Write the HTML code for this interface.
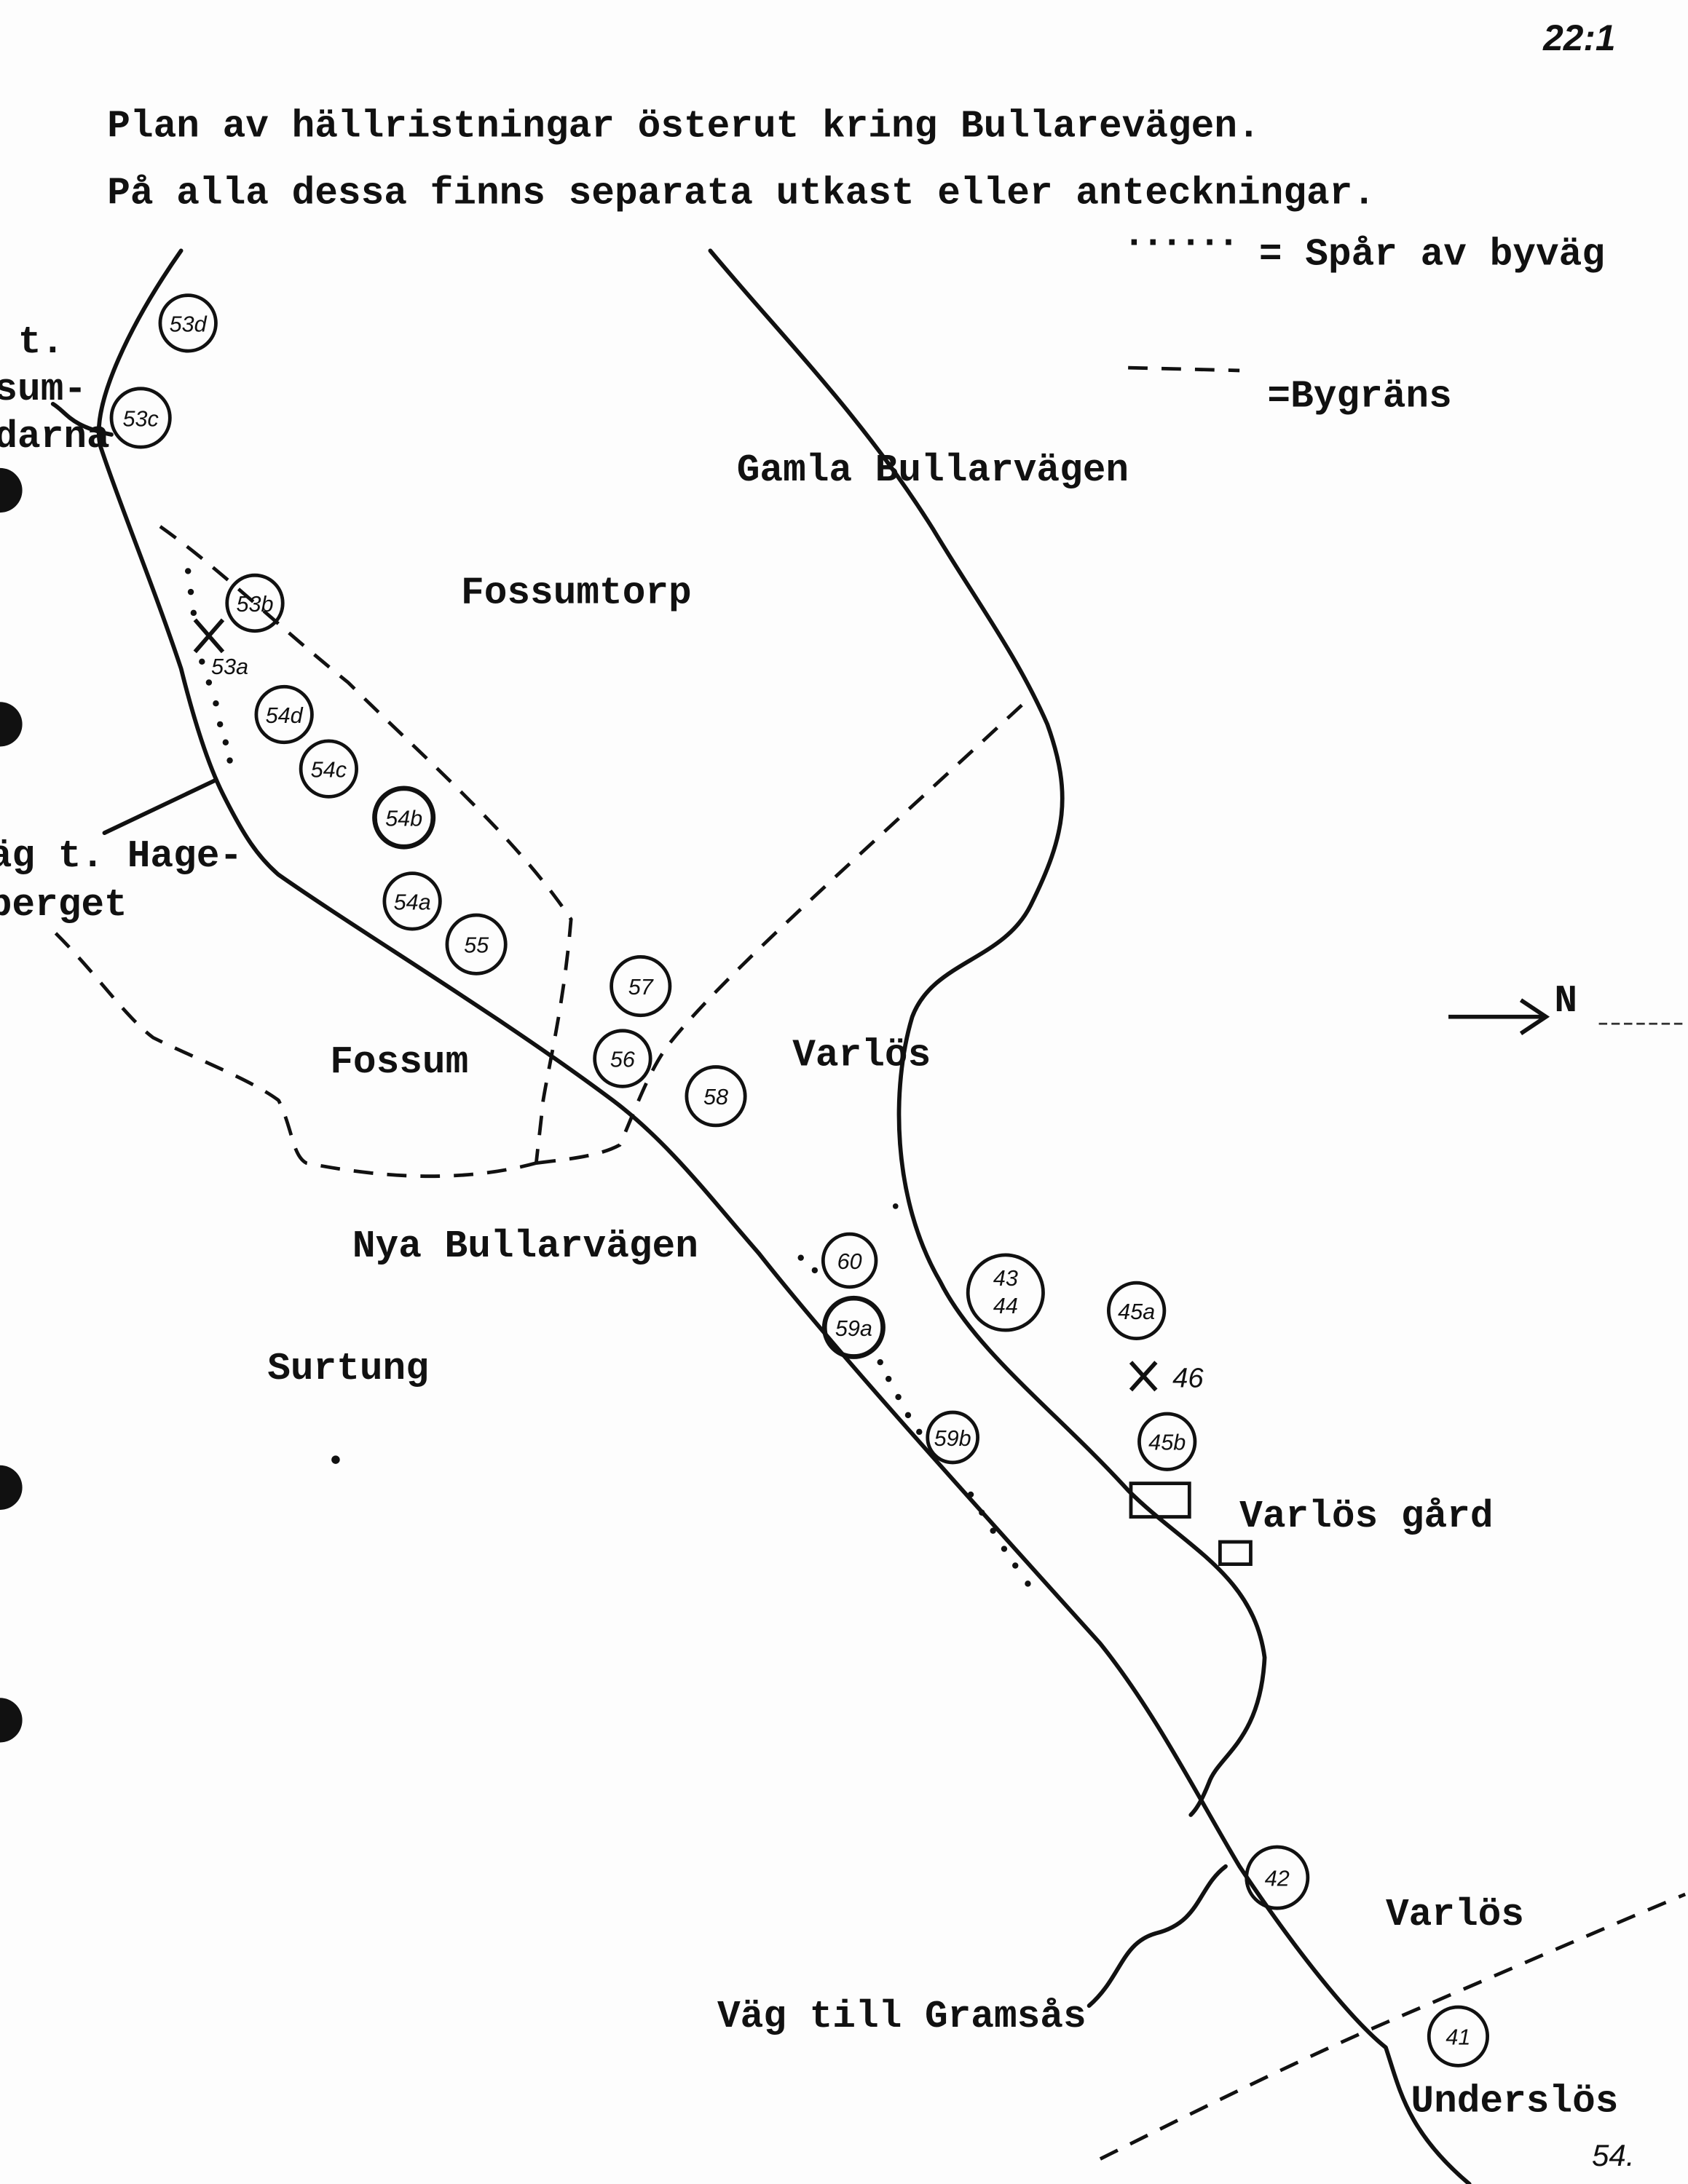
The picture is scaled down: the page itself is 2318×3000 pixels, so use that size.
<!DOCTYPE html>
<html><head><meta charset="utf-8">
<style>
html,body{margin:0;padding:0;background:#fdfdfd;}
svg{display:block;}
.t{font-family:"Liberation Mono",monospace;font-size:27.6px;fill:#111;font-weight:bold;}
.h{font-family:"Liberation Sans",sans-serif;fill:#111;}
</style></head>
<body>
<svg width="2318" height="3000" viewBox="0 0 1212 1568" preserveAspectRatio="none" xmlns="http://www.w3.org/2000/svg">
<rect width="1212" height="1568" fill="#fdfdfd"/>
<circle cx="0" cy="352" r="16" fill="#111"/>
<circle cx="0" cy="520" r="16" fill="#111"/>
<circle cx="0" cy="1068" r="16" fill="#111"/>
<circle cx="0" cy="1235" r="16" fill="#111"/>

<text class="h" x="1108" y="36" font-size="26" font-weight="bold" font-style="italic">22:1</text>
<text class="t" x="77" y="98">Plan av hällristningar österut kring Bullarevägen.</text>
<text class="t" x="77" y="146">På alla dessa finns separata utkast eller anteckningar.</text>
<text class="t" x="806" y="176" letter-spacing="-3">......</text>
<text class="t" x="904" y="190">= Spår av byväg</text>
<line x1="810" y1="264" x2="890" y2="266" stroke="#111" stroke-width="2.5" stroke-dasharray="14,10"/>
<text class="t" x="910" y="292">=Bygräns</text>

<text class="t" x="529" y="345">Gamla Bullarvägen</text>
<text class="t" x="331" y="433">Fossumtorp</text>
<text class="t" x="237" y="770">Fossum</text>
<text class="t" x="569" y="765">Varlös</text>
<text class="t" x="253" y="902">Nya Bullarvägen</text>
<text class="t" x="192" y="990">Surtung</text>
<text class="t" x="890" y="1096">Varlös gård</text>
<text class="t" x="995" y="1382">Varlös</text>
<text class="t" x="515" y="1455">Väg till Gramsås</text>
<text class="t" x="1013" y="1516">Underslös</text>
<text class="h" x="1143" y="1555" font-size="22" font-style="italic">54.</text>
<text class="t" x="13" y="253">t.</text>
<text class="t" x="-4" y="287">sum-</text>
<text class="t" x="-4" y="321">darna</text>
<text class="t" x="-8" y="622">äg t. Hage-</text>
<text class="t" x="-8" y="657">berget</text>
<text class="t" x="1116" y="726">N</text>
<line x1="1040" y1="730" x2="1108" y2="730" stroke="#111" stroke-width="3"/>
<path d="M1092,718 L1110,730 L1092,742" fill="none" stroke="#111" stroke-width="3"/>
<line x1="1148" y1="735" x2="1210" y2="735" stroke="#333" stroke-width="1.5" stroke-dasharray="6,3"/>

<g fill="none" stroke="#111" stroke-width="3" stroke-linecap="round" stroke-linejoin="round">
<path d="M130,180 C95,230 65,290 72,320 C85,360 110,420 130,480 C140,520 150,550 160,570 C175,600 185,615 200,628 C260,670 360,730 440,790 C480,820 510,860 545,900 C600,970 700,1080 790,1180 C830,1230 860,1290 890,1340 C930,1400 970,1450 995,1470 C1005,1500 1010,1530 1055,1568"/>
<path d="M38,290 C48,296 50,306 80,312"/>
<path d="M155,560 L75,598"/>
<path d="M510,180 C560,240 620,300 670,380 C700,430 730,470 752,520 C770,570 765,600 740,650 C720,690 670,690 655,730 C640,780 640,860 675,920 C700,970 760,1015 810,1070 C850,1110 900,1130 908,1190 C905,1250 875,1260 868,1280 C862,1295 858,1300 855,1303"/>
<path d="M880,1340 C860,1355 862,1380 830,1388 C805,1395 805,1420 782,1440"/>
</g>

<g fill="none" stroke="#111" stroke-width="2.5" stroke-dasharray="14,10">
<path d="M115,378 C160,410 200,450 250,490 C300,540 370,600 410,660 C405,720 395,760 390,790 C388,810 386,825 385,835"/>
<path d="M385,835 C410,832 430,830 445,822 C455,800 465,770 480,750 C520,700 600,630 735,505"/>
<path d="M40,670 C70,700 90,730 110,745 C140,760 180,775 200,790 C210,810 210,830 220,835 C270,845 330,850 385,835"/>
<path d="M790,1550 C860,1515 930,1480 1000,1450 C1070,1420 1150,1385 1210,1360"/>
</g>

<g fill="#111">
<circle cx="135" cy="410" r="2.2"/><circle cx="137" cy="425" r="2.2"/><circle cx="139" cy="440" r="2.2"/>
<circle cx="145" cy="475" r="2.2"/><circle cx="150" cy="490" r="2.2"/><circle cx="155" cy="505" r="2.2"/>
<circle cx="158" cy="520" r="2.2"/><circle cx="162" cy="533" r="2.2"/><circle cx="165" cy="546" r="2.2"/>
<circle cx="575" cy="903" r="2.2"/><circle cx="585" cy="912" r="2.2"/>
<circle cx="632" cy="978" r="2.2"/><circle cx="638" cy="990" r="2.2"/><circle cx="645" cy="1003" r="2.2"/>
<circle cx="652" cy="1016" r="2.2"/><circle cx="660" cy="1028" r="2.2"/>
<circle cx="697" cy="1073" r="2.2"/><circle cx="705" cy="1086" r="2.2"/><circle cx="713" cy="1099" r="2.2"/>
<circle cx="721" cy="1112" r="2.2"/><circle cx="729" cy="1124" r="2.2"/><circle cx="738" cy="1137" r="2.2"/>
<circle cx="241" cy="1048" r="3"/><circle cx="643" cy="866" r="2"/>
</g>

<g fill="none" stroke="#111" stroke-width="2.5">
<circle cx="135" cy="232" r="20"/><circle cx="101" cy="300" r="21"/>
<circle cx="183" cy="433" r="20"/><circle cx="204" cy="513" r="20"/>
<circle cx="236" cy="552" r="20"/><circle cx="290" cy="587" r="21" stroke-width="3.5"/>
<circle cx="296" cy="647" r="20"/><circle cx="342" cy="678" r="21"/>
<circle cx="460" cy="708" r="21"/><circle cx="447" cy="760" r="20"/>
<circle cx="514" cy="787" r="21"/><circle cx="610" cy="905" r="19"/>
<circle cx="613" cy="953" r="21" stroke-width="3.5"/><circle cx="722" cy="928" r="27"/>
<circle cx="816" cy="941" r="20"/><circle cx="838" cy="1035" r="20"/>
<circle cx="684" cy="1032" r="18"/><circle cx="917" cy="1348" r="22"/>
<circle cx="1047" cy="1462" r="21"/>
<rect x="812" y="1065" width="42" height="24"/>
<rect x="876" y="1107" width="22" height="16"/>
<path d="M140,445 L160,468 M160,445 L140,468" stroke-width="3"/>
<path d="M812,978 L830,998 M830,978 L812,998" stroke-width="3"/>
</g>

<g class="h" font-size="16" font-style="italic" text-anchor="middle" fill="#111">
<text x="135" y="238">53d</text><text x="101" y="306">53c</text>
<text x="183" y="439">53b</text><text x="204" y="519">54d</text>
<text x="236" y="558">54c</text><text x="290" y="593">54b</text>
<text x="296" y="653">54a</text><text x="342" y="684">55</text>
<text x="460" y="714">57</text><text x="447" y="766">56</text>
<text x="514" y="793">58</text><text x="610" y="911">60</text>
<text x="613" y="959">59a</text><text x="722" y="923">43</text><text x="722" y="943">44</text>
<text x="816" y="947">45a</text><text x="838" y="1041">45b</text>
<text x="684" y="1038">59b</text><text x="917" y="1354">42</text>
<text x="1047" y="1468">41</text>
<text x="165" y="484">53a</text>
<text x="853" y="996" font-size="20">46</text>
</g>
</svg>
</body></html>
